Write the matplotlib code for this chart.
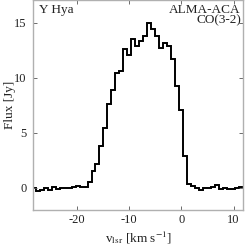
import numpy as np
import matplotlib
matplotlib.use("Agg")
import matplotlib.pyplot as plt

plt.rcParams['font.family'] = ['Liberation Serif', 'DejaVu Serif']
plt.rcParams['mathtext.fontset'] = 'stix'
plt.rcParams['axes.unicode_minus'] = False

# channel grid (km/s)
v_start = -28.59
dv = 0.76
flux = [0.0, -0.27, -0.2, 0.0, -0.2, 0.1, -0.1, 0.0, -0.05, 0.0, 0.05, 0.2, 0.05, 0.1,
        0.55, 1.5, 2.2, 3.8, 5.4, 7.6, 8.9, 10.4, 10.6, 12.6, 12.1, 13.5, 12.9, 13.3,
        13.8, 15.0, 14.4, 13.8, 12.7, 13.1, 12.9, 11.7, 9.2, 7.1, 2.9,
        0.4, 0.2, -0.05, -0.2, 0.0, 0.0, 0.1, 0.3, -0.1, 0.0, -0.1, -0.1, 0.0, 0.1, 0.1]
edges = v_start + dv * np.arange(len(flux) + 1)

xticks = [-20, -10, 0, 10]
yticks = [0, 5, 10, 15]

fig = plt.figure(figsize=(2.46, 2.45), dpi=100)
ax = fig.add_axes([0.136, 0.143, 0.852, 0.855])
ax.stairs(flux, edges, baseline=None, color='black', linewidth=1.4)
ax.set_xlim(-28.3, 11.8)
ax.set_ylim(-2, 17)
ax.set_xticks(xticks)
ax.set_yticks(yticks)
ax.tick_params(direction='in', length=3, width=0.6, labelsize=9, top=True, right=True,
               color='#555555', labelcolor='#222222', pad=5)
ax.tick_params(axis='x', pad=3)
for s in ax.spines.values():
    s.set_color('#b0b0b0')
    s.set_linewidth(1.0)
ax.set_xlabel(r'v$_{\rm lsr}$ [km s$^{-1}$]', fontsize=9.5, color='#222222')
ax.xaxis.set_label_coords(0.5, -0.09)
ax.set_ylabel('Flux [Jy]', fontsize=9.5, color='#222222')
ax.yaxis.set_label_coords(-0.085, 0.5)
ax.text(0.025, 0.985, 'Y Hya', transform=ax.transAxes, ha='left', va='top', fontsize=9.5, color='#222222')
ax.text(0.99, 0.985, 'ALMA-ACA\nCO(3-2)', transform=ax.transAxes, ha='right', va='top',
        fontsize=9.5, linespacing=0.8, color='#222222')
fig.savefig('out.png', dpi=100)
